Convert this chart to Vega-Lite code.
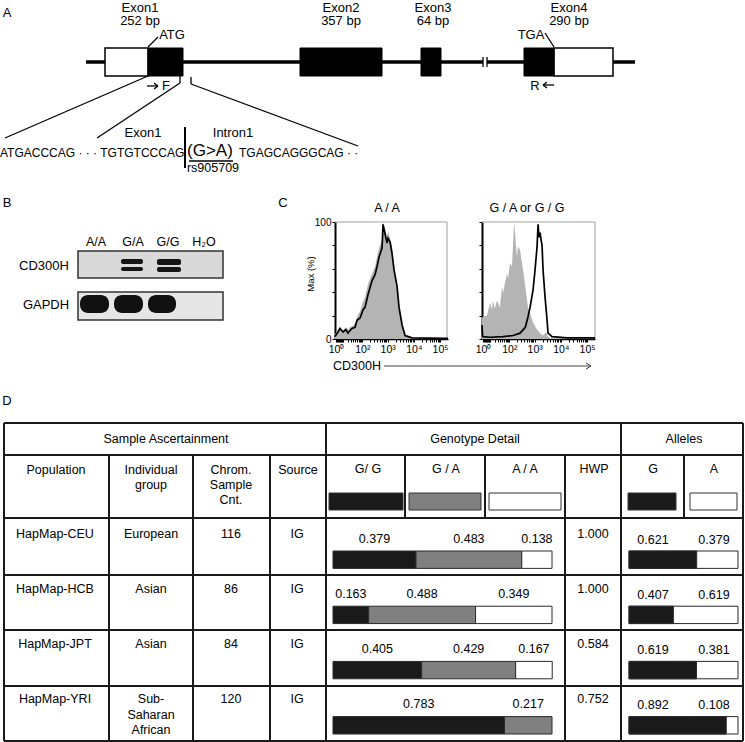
{
  "$schema": "https://vega.github.io/schema/vega-lite/v6.json",
  "width": 745,
  "height": 742,
  "padding": 0,
  "autosize": {"type": "none"},
  "background": "white",
  "config": {
    "view": {"stroke": null},
    "text": {"font": "Liberation Sans", "color": "black"},
    "axis": {"labelFont": "Liberation Sans", "titleFont": "Liberation Sans"}
  },
  "datasets": {
    "lines": [
      {"k": "bb", "x": 86, "y": 62, "x2": 105, "y2": 62},
      {"k": "bb", "x": 183, "y": 62, "x2": 300, "y2": 62},
      {"k": "bb", "x": 382, "y": 62, "x2": 421, "y2": 62},
      {"k": "bb", "x": 441, "y": 62, "x2": 483, "y2": 62},
      {"k": "bb", "x": 487, "y": 62, "x2": 524, "y2": 62},
      {"k": "bb", "x": 613, "y": 62, "x2": 635, "y2": 62},
      {"k": "th", "x": 483, "y": 57, "x2": 483, "y2": 67},
      {"k": "th", "x": 487, "y": 57, "x2": 487, "y2": 67},
      {"k": "th", "x": 148, "y": 47, "x2": 158, "y2": 37},
      {"k": "th", "x": 545, "y": 33, "x2": 554, "y2": 47},
      {"k": "th", "x": 148, "y": 76, "x2": 5, "y2": 138},
      {"k": "th", "x": 180, "y": 76, "x2": 180, "y2": 83},
      {"k": "th", "x": 180, "y": 83, "x2": 97, "y2": 138},
      {"k": "th", "x": 191, "y": 77, "x2": 191, "y2": 84},
      {"k": "th", "x": 191, "y": 84, "x2": 358, "y2": 146},
      {"k": "th", "x": 189, "y": 161, "x2": 233, "y2": 161},
      {"k": "th", "x": 147, "y": 86, "x2": 158, "y2": 86},
      {"k": "th", "x": 154, "y": 83, "x2": 158, "y2": 86},
      {"k": "th", "x": 154, "y": 89, "x2": 158, "y2": 86},
      {"k": "th", "x": 543, "y": 85, "x2": 554, "y2": 85},
      {"k": "th", "x": 547, "y": 82, "x2": 543, "y2": 85},
      {"k": "th", "x": 547, "y": 88, "x2": 543, "y2": 85},
      {"k": "vb", "x": 185, "y": 127, "x2": 185, "y2": 168},
      {"k": "fr", "x": 335, "y": 222, "x2": 447, "y2": 222},
      {"k": "fr", "x": 447, "y": 222, "x2": 447, "y2": 339},
      {"k": "fr", "x": 482, "y": 222, "x2": 595, "y2": 222},
      {"k": "fr", "x": 595, "y": 222, "x2": 595, "y2": 339},
      {"k": "ar", "x": 384, "y": 366, "x2": 591, "y2": 366},
      {"k": "ar", "x": 586, "y": 363, "x2": 591, "y2": 366},
      {"k": "ar", "x": 586, "y": 369, "x2": 591, "y2": 366},
      {"k": "tb", "x": 4, "y": 423, "x2": 743, "y2": 423},
      {"k": "tb", "x": 4, "y": 455, "x2": 743, "y2": 455},
      {"k": "tb", "x": 4, "y": 518, "x2": 743, "y2": 518},
      {"k": "tb", "x": 4, "y": 575, "x2": 743, "y2": 575},
      {"k": "tb", "x": 4, "y": 630, "x2": 743, "y2": 630},
      {"k": "tb", "x": 4, "y": 686, "x2": 743, "y2": 686},
      {"k": "tb", "x": 4, "y": 741, "x2": 743, "y2": 741},
      {"k": "tb", "x": 4, "y": 423, "x2": 4, "y2": 741},
      {"k": "tb", "x": 326, "y": 423, "x2": 326, "y2": 741},
      {"k": "tb", "x": 621, "y": 423, "x2": 621, "y2": 741},
      {"k": "tb", "x": 743, "y": 423, "x2": 743, "y2": 741},
      {"k": "tb", "x": 109, "y": 455, "x2": 109, "y2": 741},
      {"k": "tb", "x": 193, "y": 455, "x2": 193, "y2": 741},
      {"k": "tb", "x": 270, "y": 455, "x2": 270, "y2": 741},
      {"k": "tb", "x": 565, "y": 455, "x2": 565, "y2": 741},
      {"k": "tb", "x": 405, "y": 455, "x2": 405, "y2": 518},
      {"k": "tb", "x": 485, "y": 455, "x2": 485, "y2": 518},
      {"k": "tb", "x": 684, "y": 455, "x2": 684, "y2": 518}
    ],
    "rects": [
      {"k": "open", "x": 105, "x2": 148, "y": 48, "y2": 76},
      {"k": "open", "x": 554, "x2": 613, "y": 48, "y2": 76},
      {"k": "fill", "x": 148, "x2": 183, "y": 48, "y2": 76},
      {"k": "fill", "x": 300, "x2": 382, "y": 48, "y2": 76},
      {"k": "fill", "x": 421, "x2": 441, "y": 48, "y2": 76},
      {"k": "fill", "x": 524, "x2": 554, "y": 48, "y2": 76},
      {"k": "gel1", "x": 78, "x2": 223, "y": 251, "y2": 278},
      {"k": "gel2", "x": 78, "x2": 223, "y": 292, "y2": 320},
      {"k": "band", "x": 121, "x2": 143, "y": 259, "y2": 264},
      {"k": "band", "x": 121, "x2": 143, "y": 267, "y2": 271},
      {"k": "band", "x": 157, "x2": 181, "y": 259, "y2": 265},
      {"k": "band", "x": 157, "x2": 181, "y": 267, "y2": 272},
      {"k": "blob", "x": 80, "x2": 109, "y": 295, "y2": 313},
      {"k": "blob", "x": 114, "x2": 143, "y": 295, "y2": 313},
      {"k": "blob", "x": 148, "x2": 176, "y": 295, "y2": 313},
      {"k": "legB", "x": 329, "x2": 403, "y": 493, "y2": 510},
      {"k": "legB", "x": 628, "x2": 676, "y": 493, "y2": 510},
      {"k": "legG", "x": 409, "x2": 481, "y": 493, "y2": 510},
      {"k": "legW", "x": 489, "x2": 561, "y": 493, "y2": 510},
      {"k": "legW", "x": 690, "x2": 737, "y": 493, "y2": 510}
    ],
    "texts": [
      {"k": "l13", "x": 7, "y": 13, "t": "A"},
      {"k": "l13", "x": 7, "y": 203, "t": "B"},
      {"k": "l13", "x": 283, "y": 203, "t": "C"},
      {"k": "l13", "x": 7, "y": 401, "t": "D"},
      {"k": "l13", "x": 140, "y": 7.5, "t": "Exon1"},
      {"k": "l13", "x": 140, "y": 21, "t": "252 bp"},
      {"k": "l13", "x": 341, "y": 7.5, "t": "Exon2"},
      {"k": "l13", "x": 341, "y": 21, "t": "357 bp"},
      {"k": "l13", "x": 433, "y": 7.5, "t": "Exon3"},
      {"k": "l13", "x": 433, "y": 21, "t": "64 bp"},
      {"k": "l13", "x": 569, "y": 7.5, "t": "Exon4"},
      {"k": "l13", "x": 569, "y": 21, "t": "290 bp"},
      {"k": "l13", "x": 172, "y": 35, "t": "ATG"},
      {"k": "l13", "x": 531, "y": 35, "t": "TGA"},
      {"k": "l13", "x": 166, "y": 86, "t": "F"},
      {"k": "l13", "x": 535, "y": 86, "t": "R"},
      {"k": "l13", "x": 143, "y": 133, "t": "Exon1"},
      {"k": "l13", "x": 233, "y": 133, "t": "Intron1"},
      {"k": "seq", "x": 0, "y": 153, "t": "ATGACCCAG · · · TGTGTCCCAG"},
      {"k": "seq", "x": 239, "y": 153, "t": "TGAGCAGGGCAG · ·"},
      {"k": "big", "x": 187, "y": 151, "t": "(G>A)"},
      {"k": "l12", "x": 213, "y": 168, "t": "rs905709"},
      {"k": "l12", "x": 96, "y": 242, "t": "A/A"},
      {"k": "l12", "x": 133, "y": 242, "t": "G/A"},
      {"k": "l12", "x": 168, "y": 242, "t": "G/G"},
      {"k": "l12", "x": 204, "y": 242, "t": "H₂O"},
      {"k": "l13", "x": 44, "y": 266, "t": "CD300H"},
      {"k": "l13", "x": 46, "y": 305, "t": "GAPDH"},
      {"k": "l12", "x": 387, "y": 208, "t": "A / A"},
      {"k": "l12", "x": 527, "y": 208, "t": "G / A or G / G"},
      {"k": "l12", "x": 357, "y": 366, "t": "CD300H"},
      {"k": "yl", "x": 311, "y": 274, "t": "Max (%)"},
      {"k": "l12", "x": 166, "y": 439, "t": "Sample Ascertainment"},
      {"k": "l12", "x": 475, "y": 439, "t": "Genotype Detail"},
      {"k": "l12", "x": 684, "y": 439, "t": "Alleles"},
      {"k": "l12", "x": 56, "y": 470, "t": "Population"},
      {"k": "l12", "x": 151, "y": 470, "t": "Individual"},
      {"k": "l12", "x": 151, "y": 485, "t": "group"},
      {"k": "l12", "x": 231, "y": 470, "t": "Chrom."},
      {"k": "l12", "x": 231, "y": 485, "t": "Sample"},
      {"k": "l12", "x": 231, "y": 500, "t": "Cnt."},
      {"k": "l12", "x": 298, "y": 470, "t": "Source"},
      {"k": "l12", "x": 368, "y": 469, "t": "G/  G"},
      {"k": "l12", "x": 446, "y": 469, "t": "G / A"},
      {"k": "l12", "x": 525, "y": 469, "t": "A / A"},
      {"k": "l12", "x": 594, "y": 469, "t": "HWP"},
      {"k": "l12", "x": 653, "y": 469, "t": "G"},
      {"k": "l12", "x": 714, "y": 469, "t": "A"},
      {"k": "l12", "x": 55, "y": 534, "t": "HapMap-CEU"},
      {"k": "l12", "x": 151, "y": 534, "t": "European"},
      {"k": "l12", "x": 231, "y": 534, "t": "116"},
      {"k": "l12", "x": 297, "y": 534, "t": "IG"},
      {"k": "l12", "x": 593, "y": 534, "t": "1.000"},
      {"k": "l12", "x": 55, "y": 589, "t": "HapMap-HCB"},
      {"k": "l12", "x": 151, "y": 589, "t": "Asian"},
      {"k": "l12", "x": 231, "y": 589, "t": "86"},
      {"k": "l12", "x": 297, "y": 589, "t": "IG"},
      {"k": "l12", "x": 593, "y": 589, "t": "1.000"},
      {"k": "l12", "x": 55, "y": 644, "t": "HapMap-JPT"},
      {"k": "l12", "x": 151, "y": 644, "t": "Asian"},
      {"k": "l12", "x": 231, "y": 644, "t": "84"},
      {"k": "l12", "x": 297, "y": 644, "t": "IG"},
      {"k": "l12", "x": 593, "y": 644, "t": "0.584"},
      {"k": "l12", "x": 55, "y": 699, "t": "HapMap-YRI"},
      {"k": "l12", "x": 151, "y": 699, "t": "Sub-"},
      {"k": "l12", "x": 151, "y": 715, "t": "Saharan"},
      {"k": "l12", "x": 151, "y": 730, "t": "African"},
      {"k": "l12", "x": 231, "y": 699, "t": "120"},
      {"k": "l12", "x": 297, "y": 699, "t": "IG"},
      {"k": "l12", "x": 593, "y": 699, "t": "0.752"}
    ],
    "flow": [
      {"p": "AA", "s": "iso", "v": 0, "pct": 4}, {"p": "AA", "s": "iso", "v": 3, "pct": 8}, {"p": "AA", "s": "iso", "v": 5.5, "pct": 10}, {"p": "AA", "s": "iso", "v": 10.2, "pct": 7},
      {"p": "AA", "s": "iso", "v": 16, "pct": 10}, {"p": "AA", "s": "iso", "v": 21, "pct": 8}, {"p": "AA", "s": "iso", "v": 27, "pct": 10}, {"p": "AA", "s": "iso", "v": 34, "pct": 11},
      {"p": "AA", "s": "iso", "v": 48, "pct": 13}, {"p": "AA", "s": "iso", "v": 59, "pct": 19}, {"p": "AA", "s": "iso", "v": 80, "pct": 24}, {"p": "AA", "s": "iso", "v": 107, "pct": 32},
      {"p": "AA", "s": "iso", "v": 129, "pct": 36}, {"p": "AA", "s": "iso", "v": 171, "pct": 47}, {"p": "AA", "s": "iso", "v": 247, "pct": 56}, {"p": "AA", "s": "iso", "v": 324, "pct": 62},
      {"p": "AA", "s": "iso", "v": 388, "pct": 70}, {"p": "AA", "s": "iso", "v": 465, "pct": 78}, {"p": "AA", "s": "iso", "v": 607, "pct": 84}, {"p": "AA", "s": "iso", "v": 664, "pct": 100},
      {"p": "AA", "s": "iso", "v": 793, "pct": 93}, {"p": "AA", "s": "iso", "v": 947, "pct": 88}, {"p": "AA", "s": "iso", "v": 1035, "pct": 92}, {"p": "AA", "s": "iso", "v": 1236, "pct": 86},
      {"p": "AA", "s": "iso", "v": 1474, "pct": 78}, {"p": "AA", "s": "iso", "v": 1758, "pct": 62}, {"p": "AA", "s": "iso", "v": 2293, "pct": 46}, {"p": "AA", "s": "iso", "v": 2731, "pct": 28},
      {"p": "AA", "s": "iso", "v": 3560, "pct": 12}, {"p": "AA", "s": "iso", "v": 4634, "pct": 4}, {"p": "AA", "s": "iso", "v": 8570, "pct": 1}, {"p": "AA", "s": "iso", "v": 155300, "pct": 0.5},
      {"p": "AA", "s": "iso", "v": 200000, "pct": 0.5},
      {"p": "AA", "s": "cd", "v": 0, "pct": 2}, {"p": "AA", "s": "cd", "v": 3, "pct": 6}, {"p": "AA", "s": "cd", "v": 5.5, "pct": 9}, {"p": "AA", "s": "cd", "v": 10.2, "pct": 6},
      {"p": "AA", "s": "cd", "v": 16, "pct": 8}, {"p": "AA", "s": "cd", "v": 21, "pct": 5}, {"p": "AA", "s": "cd", "v": 27, "pct": 7}, {"p": "AA", "s": "cd", "v": 34, "pct": 9},
      {"p": "AA", "s": "cd", "v": 48, "pct": 10}, {"p": "AA", "s": "cd", "v": 59, "pct": 16}, {"p": "AA", "s": "cd", "v": 80, "pct": 18}, {"p": "AA", "s": "cd", "v": 107, "pct": 25},
      {"p": "AA", "s": "cd", "v": 129, "pct": 27}, {"p": "AA", "s": "cd", "v": 171, "pct": 38}, {"p": "AA", "s": "cd", "v": 247, "pct": 50}, {"p": "AA", "s": "cd", "v": 324, "pct": 55},
      {"p": "AA", "s": "cd", "v": 388, "pct": 62}, {"p": "AA", "s": "cd", "v": 465, "pct": 70}, {"p": "AA", "s": "cd", "v": 607, "pct": 78}, {"p": "AA", "s": "cd", "v": 664, "pct": 98},
      {"p": "AA", "s": "cd", "v": 793, "pct": 90}, {"p": "AA", "s": "cd", "v": 947, "pct": 82}, {"p": "AA", "s": "cd", "v": 1035, "pct": 86}, {"p": "AA", "s": "cd", "v": 1236, "pct": 83},
      {"p": "AA", "s": "cd", "v": 1474, "pct": 73}, {"p": "AA", "s": "cd", "v": 1758, "pct": 59}, {"p": "AA", "s": "cd", "v": 2293, "pct": 45}, {"p": "AA", "s": "cd", "v": 2731, "pct": 27},
      {"p": "AA", "s": "cd", "v": 3560, "pct": 12}, {"p": "AA", "s": "cd", "v": 4634, "pct": 3}, {"p": "AA", "s": "cd", "v": 8570, "pct": 1}, {"p": "AA", "s": "cd", "v": 155300, "pct": 0.5},
      {"p": "AA", "s": "cd", "v": 200000, "pct": 0.5},
      {"p": "GX", "s": "iso", "v": 0, "pct": 18}, {"p": "GX", "s": "iso", "v": 0.9, "pct": 19}, {"p": "GX", "s": "iso", "v": 5.5, "pct": 20}, {"p": "GX", "s": "iso", "v": 10.2, "pct": 31},
      {"p": "GX", "s": "iso", "v": 14, "pct": 25}, {"p": "GX", "s": "iso", "v": 16, "pct": 33}, {"p": "GX", "s": "iso", "v": 21, "pct": 26}, {"p": "GX", "s": "iso", "v": 27, "pct": 33},
      {"p": "GX", "s": "iso", "v": 38, "pct": 27}, {"p": "GX", "s": "iso", "v": 48, "pct": 45}, {"p": "GX", "s": "iso", "v": 53, "pct": 39}, {"p": "GX", "s": "iso", "v": 65, "pct": 48},
      {"p": "GX", "s": "iso", "v": 80, "pct": 56}, {"p": "GX", "s": "iso", "v": 88, "pct": 52}, {"p": "GX", "s": "iso", "v": 107, "pct": 65}, {"p": "GX", "s": "iso", "v": 129, "pct": 62},
      {"p": "GX", "s": "iso", "v": 156, "pct": 100}, {"p": "GX", "s": "iso", "v": 205, "pct": 70}, {"p": "GX", "s": "iso", "v": 225, "pct": 79}, {"p": "GX", "s": "iso", "v": 270, "pct": 76},
      {"p": "GX", "s": "iso", "v": 324, "pct": 65}, {"p": "GX", "s": "iso", "v": 355, "pct": 59}, {"p": "GX", "s": "iso", "v": 435, "pct": 45}, {"p": "GX", "s": "iso", "v": 508, "pct": 33},
      {"p": "GX", "s": "iso", "v": 555, "pct": 27}, {"p": "GX", "s": "iso", "v": 664, "pct": 22}, {"p": "GX", "s": "iso", "v": 867, "pct": 14}, {"p": "GX", "s": "iso", "v": 1236, "pct": 8},
      {"p": "GX", "s": "iso", "v": 1610, "pct": 5}, {"p": "GX", "s": "iso", "v": 2098, "pct": 3}, {"p": "GX", "s": "iso", "v": 2731, "pct": 6}, {"p": "GX", "s": "iso", "v": 3258, "pct": 2},
      {"p": "GX", "s": "iso", "v": 5060, "pct": 0},
      {"p": "GX", "s": "cd", "v": 0, "pct": 12}, {"p": "GX", "s": "cd", "v": 0.5, "pct": 3}, {"p": "GX", "s": "cd", "v": 0.9, "pct": 2}, {"p": "GX", "s": "cd", "v": 10.2, "pct": 1.5},
      {"p": "GX", "s": "cd", "v": 53, "pct": 2}, {"p": "GX", "s": "cd", "v": 142, "pct": 3}, {"p": "GX", "s": "cd", "v": 270, "pct": 5}, {"p": "GX", "s": "cd", "v": 435, "pct": 10},
      {"p": "GX", "s": "cd", "v": 555, "pct": 19}, {"p": "GX", "s": "cd", "v": 664, "pct": 27}, {"p": "GX", "s": "cd", "v": 867, "pct": 42}, {"p": "GX", "s": "cd", "v": 1035, "pct": 59},
      {"p": "GX", "s": "cd", "v": 1236, "pct": 79}, {"p": "GX", "s": "cd", "v": 1350, "pct": 98}, {"p": "GX", "s": "cd", "v": 1474, "pct": 87}, {"p": "GX", "s": "cd", "v": 1610, "pct": 91},
      {"p": "GX", "s": "cd", "v": 1758, "pct": 85}, {"p": "GX", "s": "cd", "v": 1920, "pct": 80}, {"p": "GX", "s": "cd", "v": 2098, "pct": 59}, {"p": "GX", "s": "cd", "v": 2500, "pct": 36},
      {"p": "GX", "s": "cd", "v": 2985, "pct": 16}, {"p": "GX", "s": "cd", "v": 3258, "pct": 5}, {"p": "GX", "s": "cd", "v": 4634, "pct": 2}, {"p": "GX", "s": "cd", "v": 17310, "pct": 1},
      {"p": "GX", "s": "cd", "v": 200000, "pct": 1}
    ],
    "geno": [
      {"pop": "HapMap-CEU", "gt": "G/G", "f": 0.379}, {"pop": "HapMap-CEU", "gt": "G/A", "f": 0.483}, {"pop": "HapMap-CEU", "gt": "A/A", "f": 0.138},
      {"pop": "HapMap-HCB", "gt": "G/G", "f": 0.163}, {"pop": "HapMap-HCB", "gt": "G/A", "f": 0.488}, {"pop": "HapMap-HCB", "gt": "A/A", "f": 0.349},
      {"pop": "HapMap-JPT", "gt": "G/G", "f": 0.405}, {"pop": "HapMap-JPT", "gt": "G/A", "f": 0.429}, {"pop": "HapMap-JPT", "gt": "A/A", "f": 0.167},
      {"pop": "HapMap-YRI", "gt": "G/G", "f": 0.783}, {"pop": "HapMap-YRI", "gt": "G/A", "f": 0.217}
    ],
    "allele": [
      {"pop": "HapMap-CEU", "a": "G", "f": 0.621}, {"pop": "HapMap-CEU", "a": "A", "f": 0.379},
      {"pop": "HapMap-HCB", "a": "G", "f": 0.407}, {"pop": "HapMap-HCB", "a": "A", "f": 0.619},
      {"pop": "HapMap-JPT", "a": "G", "f": 0.619}, {"pop": "HapMap-JPT", "a": "A", "f": 0.381},
      {"pop": "HapMap-YRI", "a": "G", "f": 0.892}, {"pop": "HapMap-YRI", "a": "A", "f": 0.108}
    ]
  },
  "layer": [
    {
      "encoding": {
        "x": {"field": "x", "type": "quantitative", "scale": {"domain": [0, 745], "range": [0, 745], "nice": false, "zero": false}, "axis": null},
        "y": {"field": "y", "type": "quantitative", "scale": {"domain": [0, 742], "range": [0, 742], "nice": false, "zero": false}, "axis": null}
      },
      "layer": [
        {"data": {"name": "lines"}, "transform": [{"filter": "datum.k=='bb'"}], "mark": {"type": "rule", "stroke": "black", "strokeWidth": 3.5}, "encoding": {"x2": {"field": "x2"}, "y2": {"field": "y2"}}},
        {"data": {"name": "lines"}, "transform": [{"filter": "datum.k=='th'"}], "mark": {"type": "rule", "stroke": "black", "strokeWidth": 1.3}, "encoding": {"x2": {"field": "x2"}, "y2": {"field": "y2"}}},
        {"data": {"name": "lines"}, "transform": [{"filter": "datum.k=='vb'"}], "mark": {"type": "rule", "stroke": "black", "strokeWidth": 2}, "encoding": {"x2": {"field": "x2"}, "y2": {"field": "y2"}}},
        {"data": {"name": "lines"}, "transform": [{"filter": "datum.k=='fr'"}], "mark": {"type": "rule", "stroke": "#a0a0a0", "strokeWidth": 1}, "encoding": {"x2": {"field": "x2"}, "y2": {"field": "y2"}}},
        {"data": {"name": "lines"}, "transform": [{"filter": "datum.k=='ar'"}], "mark": {"type": "rule", "stroke": "#444444", "strokeWidth": 1}, "encoding": {"x2": {"field": "x2"}, "y2": {"field": "y2"}}},
        {"data": {"name": "lines"}, "transform": [{"filter": "datum.k=='tb'"}], "mark": {"type": "rule", "stroke": "#1a1a1a", "strokeWidth": 2}, "encoding": {"x2": {"field": "x2"}, "y2": {"field": "y2"}}},
        {"data": {"name": "rects"}, "transform": [{"filter": "datum.k=='open'"}], "mark": {"type": "rect", "fill": "white", "stroke": "black", "strokeWidth": 1.5}, "encoding": {"x2": {"field": "x2"}, "y2": {"field": "y2"}}},
        {"data": {"name": "rects"}, "transform": [{"filter": "datum.k=='fill'"}], "mark": {"type": "rect", "fill": "black", "stroke": "black", "strokeWidth": 1}, "encoding": {"x2": {"field": "x2"}, "y2": {"field": "y2"}}},
        {"data": {"name": "rects"}, "transform": [{"filter": "datum.k=='gel1'"}], "mark": {"type": "rect", "fill": "#d9d9d9", "stroke": "#333333", "strokeWidth": 1.5}, "encoding": {"x2": {"field": "x2"}, "y2": {"field": "y2"}}},
        {"data": {"name": "rects"}, "transform": [{"filter": "datum.k=='gel2'"}], "mark": {"type": "rect", "fill": "#e6e6e6", "stroke": "#333333", "strokeWidth": 1.5}, "encoding": {"x2": {"field": "x2"}, "y2": {"field": "y2"}}},
        {"data": {"name": "rects"}, "transform": [{"filter": "datum.k=='band'"}], "mark": {"type": "rect", "fill": "#151515", "cornerRadius": 2}, "encoding": {"x2": {"field": "x2"}, "y2": {"field": "y2"}}},
        {"data": {"name": "rects"}, "transform": [{"filter": "datum.k=='blob'"}], "mark": {"type": "rect", "fill": "#111111", "cornerRadius": 8}, "encoding": {"x2": {"field": "x2"}, "y2": {"field": "y2"}}},
        {"data": {"name": "rects"}, "transform": [{"filter": "datum.k=='legB'"}], "mark": {"type": "rect", "fill": "#1a1a1a", "stroke": "#333333", "strokeWidth": 1}, "encoding": {"x2": {"field": "x2"}, "y2": {"field": "y2"}}},
        {"data": {"name": "rects"}, "transform": [{"filter": "datum.k=='legG'"}], "mark": {"type": "rect", "fill": "#808080", "stroke": "#333333", "strokeWidth": 1}, "encoding": {"x2": {"field": "x2"}, "y2": {"field": "y2"}}},
        {"data": {"name": "rects"}, "transform": [{"filter": "datum.k=='legW'"}], "mark": {"type": "rect", "fill": "white", "stroke": "#333333", "strokeWidth": 1}, "encoding": {"x2": {"field": "x2"}, "y2": {"field": "y2"}}},
        {"data": {"name": "texts"}, "transform": [{"filter": "datum.k=='l13'"}], "mark": {"type": "text", "fontSize": 13, "align": "center", "baseline": "middle"}, "encoding": {"text": {"field": "t"}}},
        {"data": {"name": "texts"}, "transform": [{"filter": "datum.k=='l12'"}], "mark": {"type": "text", "fontSize": 12.5, "align": "center", "baseline": "middle"}, "encoding": {"text": {"field": "t"}}},
        {"data": {"name": "texts"}, "transform": [{"filter": "datum.k=='seq'"}], "mark": {"type": "text", "fontSize": 12, "align": "left", "baseline": "middle"}, "encoding": {"text": {"field": "t"}}},
        {"data": {"name": "texts"}, "transform": [{"filter": "datum.k=='big'"}], "mark": {"type": "text", "fontSize": 17, "align": "left", "baseline": "middle"}, "encoding": {"text": {"field": "t"}}},
        {"data": {"name": "texts"}, "transform": [{"filter": "datum.k=='yl'"}], "mark": {"type": "text", "fontSize": 9.5, "align": "center", "baseline": "middle", "angle": 270}, "encoding": {"text": {"field": "t"}}}
      ]
    },
    {
      "data": {"name": "flow"},
      "transform": [{"filter": "datum.p=='AA'"}],
      "encoding": {
        "x": {"field": "v", "type": "quantitative",
          "scale": {"type": "symlog", "constant": 10, "domain": [0, 200000], "range": [335, 448], "nice": false, "zero": false},
          "axis": {"orient": "bottom", "offset": -403, "title": null, "grid": false,
            "values": [1, 2, 3, 4, 5, 6, 7, 8, 9, 10, 20, 30, 40, 50, 60, 70, 80, 90, 100, 200, 300, 400, 500, 600, 700, 800, 900, 1000, 2000, 3000, 4000, 5000, 6000, 7000, 8000, 9000, 10000, 20000, 30000, 40000, 50000, 60000, 70000, 80000, 90000, 100000],
            "labelExpr": "indexof([1,100,1000,10000,100000], datum.value) >= 0 ? '10' + ['⁰','¹','²','³','⁴','⁵'][round(log(datum.value)/LN10)] : ''",
            "labelFontSize": 10.5, "labelColor": "black", "labelPadding": 2, "labelOverlap": false, "labelFlush": false,
            "domainColor": "black", "domainWidth": 1.5, "tickColor": "black", "tickSize": 3, "tickWidth": 1}},
        "y": {"field": "pct", "type": "quantitative",
          "scale": {"domain": [0, 100], "range": [339, 222], "nice": false, "zero": false},
          "axis": {"orient": "left", "offset": -335, "title": null, "grid": false, "values": [0, 20, 40, 60, 80, 100],
            "labelExpr": "datum.value==0||datum.value==100 ? datum.label : ''",
            "labelFontSize": 10, "labelColor": "black", "labelPadding": 1,
            "domainColor": "black", "domainWidth": 2, "tickColor": "black", "tickSize": 3, "tickWidth": 1}}
      },
      "layer": [
        {"transform": [{"filter": "datum.s=='iso'"}], "mark": {"type": "area", "fill": "#b4b4b4", "interpolate": "linear"}},
        {"transform": [{"filter": "datum.s=='cd'"}], "mark": {"type": "line", "stroke": "black", "strokeWidth": 1.7, "interpolate": "linear"}}
      ]
    },
    {
      "data": {"name": "flow"},
      "transform": [{"filter": "datum.p=='GX'"}],
      "encoding": {
        "x": {"field": "v", "type": "quantitative",
          "scale": {"type": "symlog", "constant": 10, "domain": [0, 200000], "range": [482, 595], "nice": false, "zero": false},
          "axis": {"orient": "bottom", "offset": -403, "title": null, "grid": false,
            "values": [1, 2, 3, 4, 5, 6, 7, 8, 9, 10, 20, 30, 40, 50, 60, 70, 80, 90, 100, 200, 300, 400, 500, 600, 700, 800, 900, 1000, 2000, 3000, 4000, 5000, 6000, 7000, 8000, 9000, 10000, 20000, 30000, 40000, 50000, 60000, 70000, 80000, 90000, 100000],
            "labelExpr": "indexof([1,100,1000,10000,100000], datum.value) >= 0 ? '10' + ['⁰','¹','²','³','⁴','⁵'][round(log(datum.value)/LN10)] : ''",
            "labelFontSize": 10.5, "labelColor": "black", "labelPadding": 2, "labelOverlap": false, "labelFlush": false,
            "domainColor": "black", "domainWidth": 1.5, "tickColor": "black", "tickSize": 3, "tickWidth": 1}},
        "y": {"field": "pct", "type": "quantitative",
          "scale": {"domain": [0, 100], "range": [339, 222], "nice": false, "zero": false},
          "axis": {"orient": "left", "offset": -482, "title": null, "grid": false, "values": [0, 20, 40, 60, 80, 100], "labels": false,
            "domainColor": "black", "domainWidth": 2, "tickColor": "black", "tickSize": 3, "tickWidth": 1}}
      },
      "layer": [
        {"transform": [{"filter": "datum.s=='iso'"}], "mark": {"type": "area", "fill": "#b4b4b4", "interpolate": "linear"}},
        {"transform": [{"filter": "datum.s=='cd'"}], "mark": {"type": "line", "stroke": "black", "strokeWidth": 1.7, "interpolate": "linear"}}
      ]
    },
    {
      "data": {"name": "geno"},
      "transform": [{"stack": "f", "groupby": ["pop"], "sort": [{"field": "gt", "order": "descending"}], "as": ["s0", "s1"]}],
      "encoding": {
        "y": {"field": "pop", "type": "nominal", "scale": {"type": "band", "domain": ["HapMap-CEU", "HapMap-HCB", "HapMap-JPT", "HapMap-YRI"], "range": [551, 734], "paddingInner": 0.685, "paddingOuter": 0}, "axis": null}
      },
      "layer": [
        {"mark": {"type": "bar", "stroke": "#2a2a2a", "strokeWidth": 1},
          "encoding": {
            "x": {"field": "s0", "type": "quantitative", "scale": {"domain": [0, 1], "range": [333, 552], "nice": false, "zero": false}, "axis": null},
            "x2": {"field": "s1"},
            "fill": {"field": "gt", "type": "nominal", "scale": {"domain": ["G/G", "G/A", "A/A"], "range": ["#1a1a1a", "#808080", "#ffffff"]}, "legend": null}
          }},
        {"transform": [{"calculate": "(datum.s0 + datum.s1) / 2", "as": "mid"}],
          "mark": {"type": "text", "fontSize": 12.5, "dy": -21, "align": "center", "baseline": "middle"},
          "encoding": {
            "x": {"field": "mid", "type": "quantitative", "scale": {"domain": [0, 1], "range": [333, 552], "nice": false, "zero": false}, "axis": null},
            "text": {"field": "f", "type": "quantitative", "format": ".3f"}
          }}
      ]
    },
    {
      "data": {"name": "allele"},
      "transform": [{"filter": "datum.a=='G'"}],
      "encoding": {
        "y": {"field": "pop", "type": "nominal", "scale": {"type": "band", "domain": ["HapMap-CEU", "HapMap-HCB", "HapMap-JPT", "HapMap-YRI"], "range": [551, 734], "paddingInner": 0.685, "paddingOuter": 0}, "axis": null}
      },
      "layer": [
        {"mark": {"type": "rect", "fill": "white", "stroke": "#2a2a2a", "strokeWidth": 1},
          "encoding": {
            "x": {"datum": 0, "type": "quantitative", "scale": {"domain": [0, 1], "range": [629, 738], "nice": false, "zero": false}, "axis": null},
            "x2": {"datum": 1}
          }},
        {"mark": {"type": "bar", "fill": "#1a1a1a", "stroke": "#2a2a2a", "strokeWidth": 1},
          "encoding": {
            "x": {"field": "f", "type": "quantitative", "scale": {"domain": [0, 1], "range": [629, 738], "nice": false, "zero": false}, "axis": null}
          }}
      ]
    },
    {
      "data": {"name": "allele"},
      "mark": {"type": "text", "fontSize": 12.5, "dy": -20, "align": "center", "baseline": "middle"},
      "encoding": {
        "x": {"field": "a", "type": "nominal", "scale": {"type": "point", "domain": ["G", "A"], "range": [653, 714], "padding": 0}, "axis": null},
        "y": {"field": "pop", "type": "nominal", "scale": {"type": "band", "domain": ["HapMap-CEU", "HapMap-HCB", "HapMap-JPT", "HapMap-YRI"], "range": [551, 734], "paddingInner": 0.685, "paddingOuter": 0}, "axis": null},
        "text": {"field": "f", "type": "quantitative", "format": ".3f"}
      }
    }
  ],
  "resolve": {
    "scale": {"x": "independent", "y": "independent"},
    "axis": {"x": "independent", "y": "independent"}
  }
}
